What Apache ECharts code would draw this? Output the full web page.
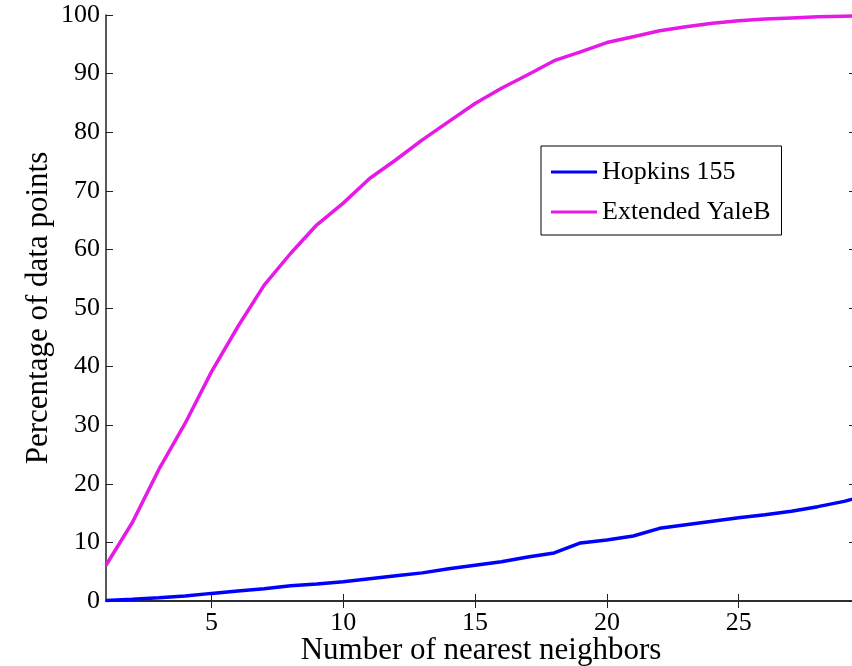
<!DOCTYPE html>
<html>
<head>
<meta charset="utf-8">
<script src="https://cdn.jsdelivr.net/npm/echarts@6/dist/echarts.min.js"></script>
<style>html,body{margin:0;padding:0;background:#fff}#c{width:852px;height:666px}</style>
</head>
<body>
<div id="c"></div>
<script>
const neighbors = [1,2,3,4,5,6,7,8,9,10,11,12,13,14,15,16,17,18,19,20,21,22,23,24,25,26,27,28,29,30];
const hopkins155 = [0.1,0.3,0.55,0.85,1.3,1.7,2.1,2.6,2.9,3.3,3.8,4.3,4.8,5.5,6.1,6.7,7.5,8.2,9.9,10.4,11.1,12.4,13.0,13.6,14.2,14.7,15.3,16.1,17.0,18.2];
const extendedYaleB = [6.1,13.4,22.4,30.3,39.1,46.8,53.9,59.3,64.2,67.9,72.1,75.3,78.7,81.8,84.9,87.5,89.8,92.2,93.7,95.3,96.3,97.3,98.0,98.6,99.0,99.3,99.5,99.7,99.8,99.9];
const xTicks = [5,10,15,20,25];
const seriesNames = ['Hopkins 155','Extended YaleB'];
const xTitle = 'Number of nearest neighbors';
const yTitle = 'Percentage of data points';

const FONT = 'Liberation Serif';
const chart = echarts.init(document.getElementById('c'));
const pairs = ys => neighbors.map((x,i)=>[x, ys[i]]);
const axisLine = {show:true, lineStyle:{color:'#222', width:1.5}};
chart.setOption({
  animation:false,
  backgroundColor:'#fff',
  grid:{left:106, right:-4, top:15, bottom:65, containLabel:false, outerBoundsMode:'none'},
  legend:{
    orient:'vertical', left:541, top:146,
    data:seriesNames,
    icon:'rect',
    itemWidth:46, itemHeight:3, itemGap:14,
    padding:[13,11,10,10],
    borderColor:'#000', borderWidth:1, backgroundColor:'#fff',
    textStyle:{fontFamily:FONT, fontSize:26, color:'#000', lineHeight:26}
  },
  xAxis:[{
    type:'value', min:1, max:29.45, position:'bottom',
    name:xTitle, nameLocation:'middle', nameGap:34, nameMoveOverlap:false,
    nameTextStyle:{fontFamily:FONT, fontSize:31, color:'#000'},
    axisLine:axisLine,
    axisTick:{show:true, inside:true, length:7, customValues:xTicks, lineStyle:{color:'#222'}},
    axisLabel:{customValues:xTicks, fontFamily:FONT, fontSize:26, color:'#000', margin:9},
    splitLine:{show:false}
  },{
    type:'value', min:1, max:29.45, position:'top',
    axisLine:axisLine,
    axisTick:{show:true, inside:true, length:7, customValues:xTicks, lineStyle:{color:'#222'}},
    axisLabel:{show:false}, splitLine:{show:false}
  }],
  yAxis:[{
    type:'value', min:0, max:100, interval:10, position:'left',
    name:yTitle, nameLocation:'middle', nameGap:52, nameRotate:90, nameMoveOverlap:false,
    nameTextStyle:{fontFamily:FONT, fontSize:31, color:'#000'},
    axisLine:axisLine,
    axisTick:{show:true, inside:true, length:7, lineStyle:{color:'#222'}},
    axisLabel:{fontFamily:FONT, fontSize:26, color:'#000', margin:6},
    splitLine:{show:false}
  },{
    type:'value', min:0, max:100, interval:10, position:'right',
    axisLine:axisLine,
    axisTick:{show:true, inside:true, length:7, lineStyle:{color:'#222'}},
    axisLabel:{show:false}, splitLine:{show:false}
  }],
  series:[{
    name:seriesNames[0], type:'line', data:pairs(hopkins155), symbol:'none', clip:true,
    lineStyle:{color:'#0000ff', width:3.5}, itemStyle:{color:'#0000ff'}
  },{
    name:seriesNames[1], type:'line', data:pairs(extendedYaleB), symbol:'none', clip:true,
    lineStyle:{color:'#e619e6', width:3.5}, itemStyle:{color:'#e619e6'}
  }]
});
</script>
</body>
</html>
